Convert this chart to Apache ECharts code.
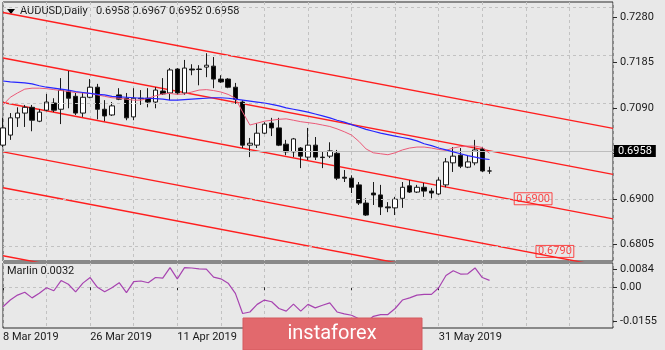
<!DOCTYPE html>
<html>
<head>
<meta charset="utf-8">
<script src="https://cdn.jsdelivr.net/npm/echarts@6/dist/echarts.min.js"></script>
<style>
  html, body { margin: 0; padding: 0; background: #e8e8e8; }
  #chart { width: 665px; height: 350px; }
</style>
</head>
<body>
<div id="chart"></div>
<script>
// AUDUSD daily bars, 8 Mar 2019 .. 11 Jun 2019, followed by empty future slots
const dates = [
  '8 Mar 2019','11 Mar 2019','12 Mar 2019','13 Mar 2019','14 Mar 2019','15 Mar 2019','18 Mar 2019','19 Mar 2019','20 Mar 2019','21 Mar 2019',
  '22 Mar 2019','25 Mar 2019','26 Mar 2019','27 Mar 2019','28 Mar 2019','29 Mar 2019','1 Apr 2019','2 Apr 2019','3 Apr 2019','4 Apr 2019',
  '5 Apr 2019','8 Apr 2019','9 Apr 2019','10 Apr 2019','11 Apr 2019','12 Apr 2019','15 Apr 2019','16 Apr 2019','17 Apr 2019','18 Apr 2019',
  '19 Apr 2019','22 Apr 2019','23 Apr 2019','24 Apr 2019','25 Apr 2019','26 Apr 2019','29 Apr 2019','30 Apr 2019','1 May 2019','2 May 2019',
  '3 May 2019','6 May 2019','7 May 2019','8 May 2019','9 May 2019','10 May 2019','13 May 2019','14 May 2019','15 May 2019','16 May 2019',
  '17 May 2019','20 May 2019','21 May 2019','22 May 2019','23 May 2019','24 May 2019','27 May 2019','28 May 2019','29 May 2019','30 May 2019',
  '31 May 2019','3 Jun 2019','4 Jun 2019','5 Jun 2019','6 Jun 2019','7 Jun 2019','10 Jun 2019','11 Jun 2019','12 Jun 2019','13 Jun 2019',
  '14 Jun 2019','17 Jun 2019','18 Jun 2019','19 Jun 2019','20 Jun 2019','21 Jun 2019','24 Jun 2019','25 Jun 2019','26 Jun 2019','27 Jun 2019',
  '28 Jun 2019','1 Jul 2019','2 Jul 2019','3 Jul 2019','4 Jul 2019'
];

const opens = [
  0.7012,0.7033,0.7069,0.7079,0.7091,0.7062,0.7085,0.7100,0.7087,0.7125,
  0.7114,0.7079,0.7112,0.7133,0.7087,0.7075,0.7117,0.7110,0.7071,0.7110,
  0.7110,0.7102,0.7125,0.7121,0.7171,0.7121,0.7171,0.7171,0.7175,0.7177,
  0.7150,0.7150,0.7133,0.7102,0.7012,0.7012,0.7037,0.7058,0.7048,0.7014,
  0.6998,0.7006,0.6987,0.7012,0.6987,0.6989,0.6995,0.6945,0.6943,0.6929,
  0.6891,0.6912,0.6908,0.6883,0.6881,0.6901,0.6927,0.6914,0.6924,0.6916,
  0.6910,0.6929,0.6975,0.6991,0.6966,0.6975,0.7004,0.6958
];
const highs = [
  0.7069,0.7079,0.7091,0.7096,0.7096,0.7087,0.7119,0.7110,0.7152,0.7167,
  0.7121,0.7121,0.7150,0.7140,0.7106,0.7102,0.7131,0.7121,0.7131,0.7127,
  0.7131,0.7133,0.7152,0.7173,0.7173,0.7190,0.7181,0.7179,0.7204,0.7196,
  0.7158,0.7152,0.7142,0.7106,0.7027,0.7058,0.7060,0.7069,0.7069,0.7023,
  0.7027,0.7008,0.7048,0.7029,0.6998,0.7018,0.7002,0.6960,0.6949,0.6935,
  0.6901,0.6935,0.6929,0.6893,0.6904,0.6935,0.6939,0.6929,0.6933,0.6922,
  0.6945,0.6985,0.7008,0.7006,0.6991,0.7023,0.7008,0.6967
];
const lows = [
  0.7008,0.7023,0.7050,0.7050,0.7041,0.7060,0.7083,0.7081,0.7056,0.7089,
  0.7075,0.7071,0.7110,0.7066,0.7062,0.7073,0.7106,0.7064,0.7064,0.7096,
  0.7091,0.7089,0.7117,0.7106,0.7117,0.7117,0.7158,0.7137,0.7154,0.7131,
  0.7142,0.7131,0.7098,0.7006,0.6987,0.7006,0.7035,0.7031,0.7010,0.6991,
  0.6987,0.6964,0.6981,0.6981,0.6964,0.6985,0.6939,0.6935,0.6912,0.6887,
  0.6864,0.6887,0.6866,0.6872,0.6866,0.6881,0.6912,0.6912,0.6904,0.6901,
  0.6908,0.6924,0.6956,0.6964,0.6964,0.6970,0.6956,0.6952
];
const closes = [
  0.7048,0.7069,0.7079,0.7091,0.7064,0.7081,0.7102,0.7085,0.7127,0.7110,
  0.7079,0.7112,0.7133,0.7087,0.7073,0.7094,0.7108,0.7069,0.7110,0.7109,
  0.7102,0.7127,0.7119,0.7169,0.7121,0.7173,0.7169,0.7170,0.7179,0.7150,
  0.7144,0.7133,0.7108,0.7012,0.7016,0.7037,0.7056,0.7048,0.7012,0.6998,
  0.7025,0.6989,0.7012,0.6987,0.6986,0.7000,0.6943,0.6943,0.6924,0.6891,
  0.6866,0.6908,0.6883,0.6881,0.6899,0.6924,0.6914,0.6924,0.6916,0.6912,
  0.6939,0.6977,0.6989,0.6968,0.6977,0.7002,0.6958,0.6958
];

// slow moving average (blue)
const maSlow = [
  0.7146,0.7144,0.7143,0.7142,0.7140,0.7136,0.7133,0.7131,0.7129,0.7127,
  0.7124,0.7122,0.7120,0.7118,0.7117,0.7114,0.7113,0.7112,0.7111,0.7110,
  0.7110,0.7109,0.7108,0.7106,0.7106,0.7107,0.7108,0.7109,0.7110,0.7111,
  0.7111,0.7110,0.7108,0.7106,0.7104,0.7102,0.7100,0.7097,0.7094,0.7090,
  0.7087,0.7084,0.7081,0.7077,0.7073,0.7069,0.7064,0.7060,0.7055,0.7050,
  0.7045,0.7041,0.7037,0.7034,0.7031,0.7028,0.7025,0.7021,0.7015,0.7011,
  0.7006,0.7002,0.6998,0.6994,0.6990,0.6987,0.6984,0.6982
];
// fast moving average (red)
const maFast = [
  0.7096,0.7112,0.7121,0.7129,0.7131,0.7131,0.7130,0.7128,0.7126,0.7124,
  0.7122,0.7121,0.7120,0.7117,0.7114,0.7111,0.7110,0.7108,0.7106,0.7106,
  0.7110,0.7115,0.7119,0.7120,0.7118,0.7119,0.7123,0.7127,0.7128,0.7126,
  0.7123,0.7118,0.7110,0.7081,0.7054,0.7058,0.7062,0.7064,0.7066,0.7067,
  0.7064,0.7061,0.7059,0.7057,0.7054,0.7051,0.7046,0.7040,0.7033,0.7020,
  0.7004,0.6996,0.6994,0.6992,0.6996,0.7002,0.7006,0.7008,0.7008,0.7006,
  0.7003,0.7001,0.7006,0.7009,0.7010,0.7010,0.7007,0.6995
];
// Marlin oscillator
const marlin = [
  -0.0090,-0.0059,-0.0036,-0.0023,-0.0049,-0.0028,-0.0002,-0.0016,0.0031,0.0014,
  -0.0021,0.0019,0.0045,0.0000,-0.0021,-0.0002,0.0021,-0.0025,0.0026,0.0029,
  0.0021,0.0045,0.0042,0.0091,0.0039,0.0091,0.0089,0.0085,0.0084,0.0047,
  0.0039,0.0019,-0.0028,-0.0121,-0.0114,-0.0079,-0.0059,-0.0067,-0.0098,-0.0110,
  -0.0078,-0.0110,-0.0079,-0.0095,-0.0083,-0.0072,-0.0114,-0.0123,-0.0129,-0.0145,
  -0.0162,-0.0134,-0.0126,-0.0126,-0.0098,-0.0059,-0.0049,-0.0036,-0.0033,-0.0033,
  -0.0002,0.0054,0.0076,0.0061,0.0062,0.0089,0.0045,0.0032
];

// descending channel lines: price at the first slot and at the last slot
const channelStart = [0.7289, 0.7194, 0.7101, 0.6998, 0.6923, 0.6781];
const channelEnd   = [0.7047, 0.6951, 0.6858, 0.6755, 0.6680, 0.6538];

// target levels: [slot index, price]
const targets = [[73, 0.6900], [76, 0.6790]];

const priceTicks  = [0.6805, 0.6900, 0.6995, 0.7090, 0.7185, 0.7280];
const marlinTicks = [-0.0155, 0, 0.0084];

const symbolName = 'AUDUSD,Daily';
const indicatorName = 'Marlin';

const last = closes.length - 1;
const candles = opens.map((o, i) => [o, closes[i], lows[i], highs[i]]);
const lastSlot = dates.length - 1;

const FONT = 'Roboto';
const TXT = '#1a1a1a';
const FRAME = '#2a2a2a';
const GRID_DASH = { color: '#c2c2c2', type: [3, 3], width: 1 };
const RED = '#ff1e1e';

const dateShown = (idx) => idx % 12 === 0 && idx <= last;

const channelSeries = channelStart.map((s, k) => ({
  type: 'line',
  xAxisIndex: 0, yAxisIndex: 0,
  data: [[0, s], [lastSlot, channelEnd[k]]],
  symbol: 'none',
  silent: true,
  z: 3,
  lineStyle: { color: RED, width: 1.4 }
}));

const chart = echarts.init(document.getElementById('chart'), null, { renderer: 'canvas' });

chart.setOption({
  backgroundColor: '#e8e8e8',
  animation: false,
  textStyle: { fontFamily: FONT },
  grid: [
    { left: 3, right: 52, top: 2, height: 259, show: true, borderColor: FRAME, borderWidth: 1, backgroundColor: 'transparent' },
    { left: 3, right: 52, top: 263, height: 65, show: true, borderColor: FRAME, borderWidth: 1, backgroundColor: 'transparent' }
  ],
  xAxis: [
    {
      type: 'category', gridIndex: 0, data: dates, boundaryGap: false,
      axisLine: { show: false }, axisTick: { show: false }, axisLabel: { show: false },
      splitLine: { show: true, interval: 5, lineStyle: GRID_DASH }
    },
    {
      type: 'category', gridIndex: 1, data: dates, boundaryGap: false,
      axisLine: { show: false },
      axisTick: { show: true, interval: dateShown, length: 3, lineStyle: { color: FRAME } },
      axisLabel: { interval: dateShown, align: 'left', margin: 4, color: TXT, fontSize: 11, fontFamily: FONT },
      splitLine: { show: true, interval: 5, lineStyle: GRID_DASH }
    }
  ],
  yAxis: [
    {
      type: 'value', gridIndex: 0, position: 'right', min: 0.6770, max: 0.7311,
      axisLine: { show: false },
      axisTick: { show: true, customValues: priceTicks, length: 4, lineStyle: { color: FRAME } },
      axisLabel: { customValues: priceTicks, formatter: v => v.toFixed(4), margin: 7, color: TXT, fontSize: 11, fontFamily: FONT },
      splitLine: { show: false }
    },
    {
      type: 'value', gridIndex: 1, position: 'right', min: -0.0188, max: 0.0112,
      axisLine: { show: false },
      axisTick: { show: true, customValues: marlinTicks, length: 4, lineStyle: { color: FRAME } },
      axisLabel: { customValues: marlinTicks, formatter: v => (v === 0 ? '0.00' : v.toFixed(4)), margin: 7, color: TXT, fontSize: 11, fontFamily: FONT },
      splitLine: { show: false }
    }
  ],
  series: [
    {
      // horizontal price grid
      type: 'line', xAxisIndex: 0, yAxisIndex: 0, data: [], silent: true, z: 0,
      markLine: {
        symbol: 'none', silent: true, animation: false,
        label: { show: false }, lineStyle: GRID_DASH,
        data: priceTicks.map(v => ({ yAxis: v }))
      }
    },
    ...channelSeries,
    {
      type: 'candlestick', xAxisIndex: 0, yAxisIndex: 0,
      data: candles, barWidth: 5, z: 4,
      itemStyle: { color: '#ffffff', color0: '#000000', borderColor: '#1a1a1a', borderColor0: '#1a1a1a', borderWidth: 1 },
      markLine: {
        symbol: 'none', silent: true, animation: false,
        lineStyle: { color: '#bdbdbd', type: 'solid', width: 1 },
        label: {
          position: 'end', distance: 1, formatter: closes[last].toFixed(4),
          backgroundColor: '#000000', color: '#ffffff', fontSize: 11, fontFamily: FONT,
          padding: [0, 4, 0, 4], lineHeight: 12
        },
        data: [{ yAxis: closes[last] }]
      }
    },
    {
      type: 'line', xAxisIndex: 0, yAxisIndex: 0, data: maFast, symbol: 'none', silent: true, z: 5,
      lineStyle: { color: '#ec5a78', width: 1 }
    },
    {
      type: 'line', xAxisIndex: 0, yAxisIndex: 0, data: maSlow, symbol: 'none', silent: true, z: 5,
      lineStyle: { color: '#2626ff', width: 1.2 }
    },
    {
      type: 'scatter', xAxisIndex: 0, yAxisIndex: 0, data: targets, symbolSize: 1, silent: true, z: 6,
      itemStyle: { color: 'rgba(0,0,0,0)' },
      label: {
        show: true, position: 'inside', formatter: p => p.value[1].toFixed(4),
        color: RED, fontSize: 11, fontFamily: FONT,
        borderColor: RED, borderWidth: 1, padding: [1, 2, 0, 2]
      }
    },
    {
      type: 'line', xAxisIndex: 1, yAxisIndex: 1, data: marlin, symbol: 'none', silent: true, z: 5,
      lineStyle: { color: '#a743b0', width: 1.2 },
      markLine: {
        symbol: 'none', silent: true, animation: false,
        label: { show: false }, lineStyle: GRID_DASH,
        data: [{ yAxis: 0 }]
      }
    }
  ],
  graphic: [
    {
      type: 'polygon', silent: true,
      shape: { points: [[7, 9], [15, 9], [11, 14]] },
      style: { fill: '#000000' }
    },
    {
      type: 'text', left: 20, top: 6, silent: true,
      style: {
        text: symbolName + '   ' + [opens[last], highs[last], lows[last], closes[last]].map(v => v.toFixed(4)).join(' '),
        fill: TXT, font: '11px ' + FONT
      }
    },
    {
      type: 'text', left: 7, top: 266, silent: true,
      style: { text: indicatorName + ' ' + marlin[last].toFixed(4), fill: TXT, font: '11px ' + FONT }
    },
    // logo badge drawn over the bottom axis
    {
      type: 'rect', silent: true, z: 1000, zlevel: 1,
      shape: { x: 243, y: 318, width: 179, height: 32 },
      style: { fill: '#e2696d', stroke: '#d45a5e', lineWidth: 1 }
    },
    {
      type: 'text', silent: true, z: 1001, zlevel: 1,
      x: 332, y: 334,
      style: { text: 'instaforex', fill: '#ffffff', font: '20px ' + FONT, align: 'center', verticalAlign: 'middle' }
    }
  ]
});
</script>
</body>
</html>
